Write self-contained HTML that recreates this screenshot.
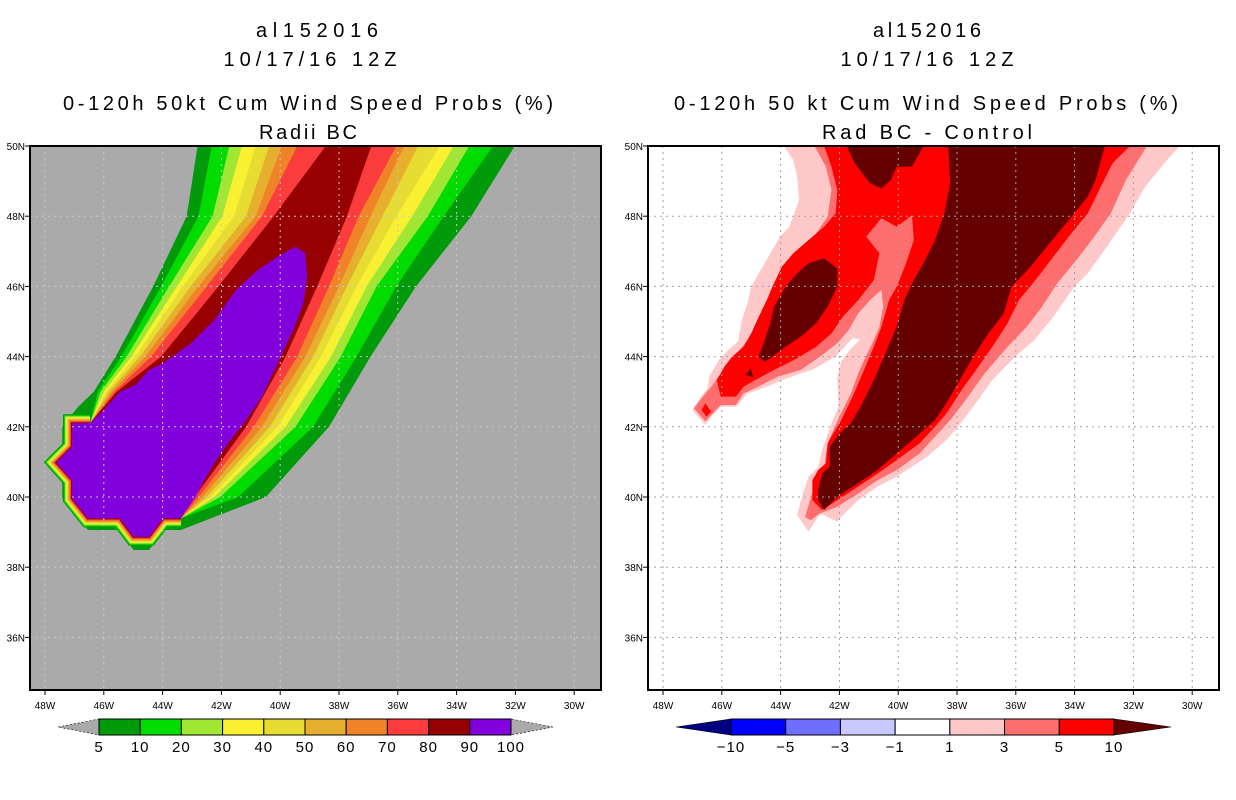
<!DOCTYPE html>
<html><head><meta charset="utf-8"><style>
html,body{margin:0;padding:0;background:#fff;}
svg{display:block;font-family:"Liberation Sans",sans-serif;}
</style></head><body>
<svg id="root" width="1236" height="800" viewBox="0 0 1236 800" xmlns="http://www.w3.org/2000/svg">
<defs>
<clipPath id="clipL"><rect x="30" y="146" width="571" height="544"/></clipPath>
<clipPath id="clipR"><rect x="648" y="146" width="571" height="544"/></clipPath>
</defs>
<g font-size="20" text-anchor="middle" fill="#000">
<text x="317" y="37" textLength="122">al152016</text>
<text x="310" y="66" textLength="173">10/17/16 12Z</text>
<text x="308" y="110" textLength="490">0-120h 50kt Cum Wind Speed Probs (%)</text>
<text x="308" y="139" textLength="98">Radii BC</text>
</g>
<g font-size="20" text-anchor="middle" fill="#000">
<text x="927" y="37" textLength="108">al152016</text>
<text x="927" y="66" textLength="173">10/17/16 12Z</text>
<text x="926" y="110" textLength="504">0-120h 50 kt Cum Wind Speed Probs (%)</text>
<text x="927" y="139" textLength="210">Rad BC - Control</text>
</g>
<rect x="30" y="146" width="571" height="544" fill="#aaaaaa"/>
<rect x="648" y="146" width="571" height="544" fill="#ffffff"/>
<g id="fillL" clip-path="url(#clipL)"></g>
<g id="fillR" clip-path="url(#clipR)"></g>
<g id="gridL" clip-path="url(#clipL)"></g>
<g id="gridR" clip-path="url(#clipR)"></g>
<rect x="30" y="146" width="571" height="544" fill="none" stroke="#000" stroke-width="2"/>
<rect x="648" y="146" width="571" height="544" fill="none" stroke="#000" stroke-width="2"/>
<g id="axes"></g>
<g id="cbar"></g>
</svg>
<script>
// ---- axis data ----
const lonTicks = [48,46,44,42,40,38,36,34,32,30];
const latTicks = [50,48,46,44,42,40,38,36];
// ---- left panel: contour levels (%) ----
const leftLevels = [5,10,20,30,40,50,60,70,80];
const leftColors = ['#009a0a','#00dc00','#a0e632','#faf032','#e6dc32','#e6af2d','#f08228','#fa3c3c','#960000'];
const purpleColor = '#8200dc';
const leftEdgeLats = [50,48,46,44,43];
const rightEdgeLats = [40,42,44,46,48,50];
const leftEdge5 = [42.81,43.18,44.32,45.6,46.34];
const leftEdge10 = [42.33,42.78,44.05,45.4,46.2];
const leftEdge20 = [41.73,42.3,43.78,45.22,46.11];
const leftEdge30 = [41.3,41.97,43.51,45.06,46.0];
const leftEdge40 = [40.83,41.57,43.31,44.93,45.91];
const leftEdge50 = [40.38,41.16,43.04,44.77,45.83];
const leftEdge60 = [39.95,40.83,42.78,44.59,45.73];
const leftEdge70 = [39.42,40.62,42.5,44.39,45.64];
const leftEdge80 = [38.45,40.22,42.1,44.05,45.56];
const rightEdge5 = [40.49,38.34,36.93,35.38,33.5,32.02];
const rightEdge10 = [41.43,38.88,37.4,36.05,34.44,32.76];
const rightEdge20 = [42.04,39.48,37.94,36.72,34.98,33.57];
const rightEdge30 = [42.24,39.82,38.27,37.06,35.51,34.1];
const rightEdge40 = [42.37,40.09,38.61,37.4,36.05,34.57];
const rightEdge50 = [42.5,40.35,38.88,37.73,36.52,35.31];
const rightEdge60 = [42.64,40.62,39.15,38.0,36.93,35.78];
const rightEdge70 = [42.78,40.9,39.42,38.34,37.33,36.05];
const rightEdge80 = [42.91,41.16,39.82,38.74,37.73,36.9];
const outerBottomLon = [46.87,47.01,47.41,47.41,47.91,47.41,47.41,46.54,45.46,44.99,44.46,43.98,43.38];
const outerBottomLat = [42.57,42.43,42.0,41.43,40.98,40.48,39.96,39.06,39.06,38.49,38.49,39.06,39.06];
const purpleLon = [47.08,46.47,46.0,45.46,44.93,44.46,43.98,43.04,42.24,41.5,40.76,40.09,39.48,39.15,39.08,39.21,39.55,40.09,40.62,41.16,41.77,42.24,42.64,42.91,43.38,43.98,44.46,44.99,45.46,46.54,47.08,47.08,47.62,47.08,47.08];
const purpleLat = [42.1,42.1,42.48,43.0,43.19,43.62,43.81,44.38,45.04,45.9,46.47,46.85,47.13,46.94,46.28,45.52,44.76,43.81,42.86,42.19,41.53,40.96,40.39,39.96,39.39,39.39,38.87,38.87,39.39,39.39,39.96,40.48,40.98,41.43,42.0];
const rimLon = [46.47,47.08,47.08,47.62,47.08,47.08,46.54,45.46,44.99,44.46,43.98,43.38];
const rimLat = [42.1,42.1,41.43,40.98,40.48,39.96,39.39,39.39,38.87,38.87,39.39,39.39];
// ---- right panel: difference contours ----
const diffLevels = [-10,-5,-3,-1,1,3,5,10];
const diffColors = ['#000080','#0000ff','#6e6eff','#c8c8ff','#ffffff','#ffc8c8','#ff6e6e','#ff0000','#640000'];
const diff1Lon = [43.89,43.57,43.44,43.37,43.70,44.02,44.35,44.67,45.0,45.13,45.32,45.45,45.78,46.1,46.43,46.49,46.75,47.01,46.56,46.36,46.04,45.52,45.13,44.47,43.96,43.31,42.92,42.14,41.55,41.29,41.61,41.94,42.07,42.03,42.27,42.59,42.72,43.05,43.24,43.44,43.05,42.66,42.07,41.94,41.36,40.70,40.05,39.01,38.36,37.97,37.45,36.80,36.02,35.37,34.72,34.01,33.55,32.9,32.12,31.6,30.95,30.43];
const diff1Lat = [50.0,49.6,49.13,48.46,47.7,47.42,46.94,46.47,45.99,45.52,45.04,44.43,44.19,43.9,43.43,43.09,42.81,42.48,42.05,42.29,42.57,42.57,42.95,43.14,43.33,43.52,43.62,44.0,44.52,44.49,44.23,43.86,43.43,42.57,42.1,41.34,40.86,40.58,40.10,39.49,39.01,39.53,39.30,39.44,39.91,40.3,40.58,41.15,41.62,42.0,42.57,43.33,44.0,44.47,45.14,45.99,46.37,47.13,48.08,48.84,49.51,50.0];
const diff3Lon = [42.85,42.46,42.27,42.4,42.79,43.17,43.70,44.02,44.28,44.61,44.87,45.13,45.39,45.71,46.04,46.36,46.69,46.95,46.56,46.04,45.52,45.26,44.87,44.09,43.31,42.66,42.07,41.68,41.36,40.96,40.57,40.51,40.64,40.83,41.16,41.36,41.61,42.0,42.4,42.53,42.79,43.17,42.98,42.66,42.07,41.36,40.70,40.05,39.27,38.75,38.23,37.71,37.06,36.28,35.63,35.11,34.59,33.94,33.42,32.77,32.25,31.54];
const diff3Lat = [50.0,49.41,48.75,47.99,47.51,47.23,46.75,46.37,45.9,45.23,44.85,44.47,44.19,43.9,43.52,43.14,42.81,42.53,42.15,42.62,42.62,42.95,43.1,43.43,43.62,44.0,44.38,44.76,45.23,45.61,45.9,45.42,44.85,44.47,43.9,43.52,42.95,42.29,41.53,40.77,40.48,39.44,39.34,39.53,39.72,40.1,40.48,40.77,41.24,41.72,42.19,42.76,43.52,44.28,44.85,45.42,46.09,46.75,47.32,48.08,49.03,50.0];
const diff5Lon = [42.52,42.27,42.07,42.13,42.52,43.05,43.57,43.96,44.28,44.47,44.74,45.0,45.26,45.65,45.91,46.17,46.04,45.52,45.26,44.87,44.22,43.44,42.79,42.27,41.88,41.36,40.83,40.64,41.09,40.57,40.05,39.53,39.47,39.73,40.05,40.31,40.57,40.83,41.16,41.55,41.94,42.4,42.46,42.72,42.92,42.92,42.59,42.07,41.36,40.70,40.05,39.27,38.75,38.36,37.84,37.19,36.80,36.28,35.89,35.24,34.72,34.2,33.55,33.16,32.71,32.12];
const diff5Lat = [50.0,49.41,48.75,48.08,47.7,47.32,46.94,46.56,45.99,45.61,45.14,44.66,44.28,44.0,43.71,43.33,42.86,42.86,43.14,43.33,43.62,43.95,44.28,44.66,45.14,45.61,46.18,46.94,47.42,47.94,47.7,48.03,47.32,46.66,45.99,45.61,44.85,44.28,43.62,42.86,42.19,41.53,40.96,40.77,40.48,39.91,39.63,39.91,40.3,40.67,41.05,41.53,42.0,42.38,43.05,43.81,44.28,44.95,45.61,46.28,46.85,47.42,48.08,48.75,49.51,50.0];
const diff5TipLon = [46.69,46.56,46.36,46.52];
const diff5TipLat = [42.48,42.67,42.43,42.29];
const diff10TopLon = [41.75,41.48,41.22,40.96,40.57,40.25,40.05,39.53,39.14];
const diff10TopLat = [50.0,49.51,49.22,48.94,48.79,49.03,49.41,49.41,50.0];
const diff10MainLon = [38.3,38.23,38.43,38.75,39.14,39.47,39.79,40.05,40.44,40.83,41.22,41.61,42.0,42.33,42.33,42.59,42.72,42.72,42.52,42.07,41.36,40.70,40.05,39.27,38.75,38.36,37.97,37.45,36.93,36.41,36.15,35.5,34.85,34.2,33.55,33.29,32.97];
const diff10MainLat = [50.0,48.94,48.08,47.32,46.66,46.18,45.61,44.85,44.09,43.33,42.67,42.1,41.81,41.43,40.86,40.67,40.2,39.91,39.63,40.01,40.39,40.77,41.24,41.81,42.19,42.67,43.24,44.0,44.66,45.23,45.99,46.56,47.23,47.89,48.56,49.03,50.0];
const diff10ArmLon = [43.05,42.52,42.07,42.07,42.4,42.79,43.31,43.83,44.28,44.54,44.74,44.54,44.35,44.22,43.83,43.44];
const diff10ArmLat = [46.66,46.8,46.51,45.99,45.42,44.95,44.57,44.28,44.0,43.85,44.0,44.47,44.95,45.42,45.99,46.37];
const diff10DotLon = [45.02,45.19,44.93];
const diff10DotLat = [43.67,43.48,43.41];

// ---- axis functions ----
const NS='http://www.w3.org/2000/svg';
const panelX48 = [45, 663];
function X(lon, p){ return panelX48[p] + (48 - lon) * 29.4; }
function Y(lat){ return 146 + (50 - lat) * 35.1; }
function mk(tag, attrs, parent){
  const e = document.createElementNS(NS, tag);
  for (const k in attrs) e.setAttribute(k, attrs[k]);
  parent.appendChild(e); return e;
}
function pts(lons, lats, p){ return lons.map((l,i)=>X(l,p).toFixed(1)+','+Y(lats[i]).toFixed(1)).join(' '); }

// ---- left panel fills ----
const fillL = document.getElementById('fillL');
const leftEdges = [leftEdge5,leftEdge10,leftEdge20,leftEdge30,leftEdge40,leftEdge50,leftEdge60,leftEdge70,leftEdge80];
const rightEdges = [rightEdge5,rightEdge10,rightEdge20,rightEdge30,rightEdge40,rightEdge50,rightEdge60,rightEdge70,rightEdge80];
leftLevels.forEach((lev, k) => {
  const lons = [], lats = [];
  leftEdges[k].forEach((v,i)=>{ lons.push(v); lats.push(leftEdgeLats[i]); });
  const bLon = k === 0 ? outerBottomLon : rimLon;
  const bLat = k === 0 ? outerBottomLat : rimLat;
  bLon.forEach((v,i)=>{ lons.push(v); lats.push(bLat[i]); });
  rightEdges[k].forEach((v,i)=>{ lons.push(v); lats.push(rightEdgeLats[i]); });
  lons.push(lons[lons.length-1]); lats.push(51);
  lons.unshift(lons[0]); lats.unshift(51);
  const el = mk('polygon', {points: pts(lons, lats, 0), fill: leftColors[k]}, fillL);
  
  
});
leftLevels.forEach((lev, k) => {
  const el = mk('polyline', {points: pts(rimLon, rimLat, 0), fill: 'none', stroke: leftColors[k], 'stroke-width': 2*(leftLevels.length - k), 'stroke-linejoin': 'miter'}, fillL);
  
  
});
const purple = mk('polygon', {points: pts(purpleLon, purpleLat, 0), fill: purpleColor}, fillL);



// ---- right panel fills ----
const fillR = document.getElementById('fillR');
function rpoly(lons, lats, color, name){
  const el = mk('polygon', {points: pts(lons, lats, 1), fill: color}, fillR);
  
  
}
rpoly(diff1Lon, diff1Lat, diffColors[5], 'diff-band-1');
rpoly(diff3Lon, diff3Lat, diffColors[6], 'diff-band-3');
rpoly(diff5Lon, diff5Lat, diffColors[7], 'diff-band-5');
rpoly(diff5TipLon, diff5TipLat, diffColors[7], 'diff-band-5-tip');
rpoly(diff10TopLon, diff10TopLat, diffColors[8], 'diff-band-10-top');
rpoly(diff10MainLon, diff10MainLat, diffColors[8], 'diff-band-10-main');
rpoly(diff10ArmLon, diff10ArmLat, diffColors[8], 'diff-band-10-arm');
rpoly(diff10DotLon, diff10DotLat, diffColors[8], 'diff-band-10-dot');

// ---- grids ----
[['gridL',0,'#c8c8c8'],['gridR',1,'#a0a0a0']].forEach(([id,p,col])=>{
  const g = document.getElementById(id);
  lonTicks.forEach(l=>{
    const ln = mk('line',{x1:X(l,p),x2:X(l,p),y1:146,y2:690,stroke:col,'stroke-width':1,'stroke-dasharray':'2,4'},g);
    
    
  });
  latTicks.slice(1).forEach(l=>{
    const ln = mk('line',{x1:p?648:30,x2:p?1219:601,y1:Y(l),y2:Y(l),stroke:col,'stroke-width':1,'stroke-dasharray':'2,4'},g);
    
    
  });
});

// ---- axes ticks & labels ----
const axes = document.getElementById('axes');
[0,1].forEach(p=>{
  const left = p ? 648 : 30;
  lonTicks.forEach(l=>{
    const t = mk('line',{x1:X(l,p),x2:X(l,p),y1:690,y2:695,stroke:'#000','stroke-width':1},axes);
    
    
    const tx = mk('text',{x:X(l,p),y:709,'font-size':10,'text-anchor':'middle',fill:'#000'},axes);
    tx.textContent = l + 'W';
    
    
  });
  latTicks.forEach(l=>{
    const t = mk('line',{x1:left-5,x2:left,y1:Y(l),y2:Y(l),stroke:'#000','stroke-width':1},axes);
    
    
    const tx = mk('text',{x:left-5,y:Y(l)+4,'font-size':10,'text-anchor':'end',fill:'#000'},axes);
    tx.textContent = l + 'N';
    
    
  });
});

// ---- colorbars ----
const cbar = document.getElementById('cbar');
function colorbar(x0, x1, tipL, tipR, cols, labels, leftTip, rightTip, prefix){
  const n = cols.length - (leftTip?1:0) - (rightTip?1:0);
  const w = (x1 - x0) / n;
  const y0 = 719, y1 = 735, ym = 727;
  const tl = mk('polygon',{points:`${tipL},${ym} ${x0},${y0} ${x0},${y1}`,fill:leftTip||'#aaaaaa',stroke:'#000','stroke-width':0.6,'stroke-dasharray':leftTip?'':'2,2'},cbar);
  
  
  const tr = mk('polygon',{points:`${tipR},${ym} ${x1},${y0} ${x1},${y1}`,fill:rightTip||'#aaaaaa',stroke:'#000','stroke-width':0.6,'stroke-dasharray':rightTip?'':'2,2'},cbar);
  
  
  const inner = cols.slice(leftTip?1:0, cols.length-(rightTip?1:0));
  inner.forEach((c,i)=>{
    const r = mk('rect',{x:x0+i*w,y:y0,width:w,height:y1-y0,fill:c,stroke:'#000','stroke-width':1},cbar);
    
    
  });
  labels.forEach((lab,i)=>{
    const t = mk('text',{x:x0+i*w,y:752,'font-size':15,'text-anchor':'middle',fill:'#000','letter-spacing':1},cbar);
    t.textContent = lab;
    
    
  });
}
colorbar(99, 511, 58, 553, leftColors.concat([purpleColor]), leftLevels.concat([90,100]).map(String), null, null, 'left-colorbar');
colorbar(731, 1114, 676, 1171, diffColors, diffLevels.map(v=>v<0?'\u2212'+(-v):String(v)), diffColors[0], diffColors[8], 'right-colorbar');
</script>
</body></html>
